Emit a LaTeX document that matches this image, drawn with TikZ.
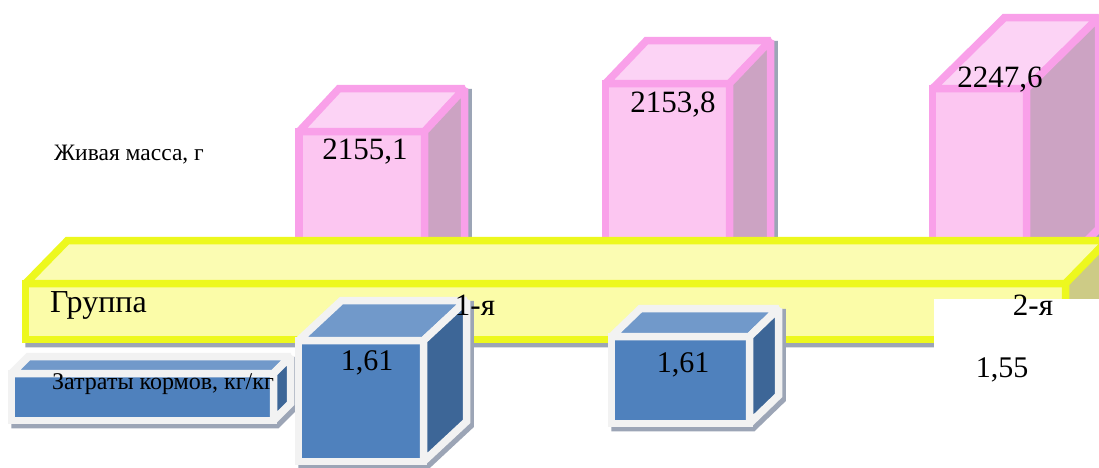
\documentclass[tikz,border=0pt]{standalone}
\usepackage{fontspec}
\setmainfont{Liberation Serif}
\definecolor{pinkS}{HTML}{F9A0E9}
\definecolor{pinkF}{HTML}{FCC6F1}
\definecolor{pinkT}{HTML}{FCD3F5}
\definecolor{pinkD}{HTML}{CCA3C3}
\definecolor{yelS}{HTML}{EDF81E}
\definecolor{yelF}{HTML}{FBFCA8}
\definecolor{yelT}{HTML}{FBFCB2}
\definecolor{yelD}{HTML}{CDCB86}
\definecolor{bluS}{HTML}{F2F2F2}
\definecolor{bluF}{HTML}{4F81BD}
\definecolor{bluT}{HTML}{7199CA}
\definecolor{bluD}{HTML}{3D6697}
\definecolor{shadowc}{HTML}{9CA5B6}
\tikzset{
  boxline/.style={line width=7.5pt, line join=miter, miter limit=1.6},
  lbl/.style={inner sep=0pt, text=black},
}
% #1 x1, #2 y1 (top), #3 x2, #4 y2 (bottom), #5 dx, #6 dy (up), #7 prefix of colour names
\newcommand\cuboid[7]{%
  \draw[boxline, shadowc, fill=shadowc, shift={(3.5,4)}]
    (#1,#4) -- (#1,#2) -- (#1+#5,#2-#6) -- (#3+#5,#2-#6) -- (#3+#5,#4-#6) -- (#3,#4) -- cycle;
  \draw[boxline, draw=#7S, fill=#7F] (#1,#2) rectangle (#3,#4);
  \draw[boxline, draw=#7S, fill=#7T] (#1,#2) -- (#1+#5,#2-#6) -- (#3+#5,#2-#6) -- (#3,#2) -- cycle;
  \draw[boxline, draw=#7S, fill=#7D] (#3,#2) -- (#3+#5,#2-#6) -- (#3+#5,#4-#6) -- (#3,#4) -- cycle;
}
\begin{document}
\begin{tikzpicture}[x=1pt,y=-1pt]
\useasboundingbox (0,0) rectangle (1099,467);
\clip (0,0) rectangle (1099,467);
\fill[white] (0,0) rectangle (1099,467);
% pink bars (live mass)
\cuboid{299}{131.5}{424.5}{300}{40}{43}{pink}
\cuboid{605.5}{83.5}{729.5}{300}{41}{43}{pink}
\cuboid{932.5}{88.5}{1026.5}{300}{72}{71}{pink}
% group bar
\cuboid{25.5}{283.5}{1065.5}{339.5}{42}{43}{yel}
% white label area
\fill[white] (934,299) rectangle (1099,467);
% blue boxes (feed cost)
\cuboid{11.5}{373.5}{273.5}{420.5}{17}{17}{blu}
\cuboid{298.5}{340.5}{423.5}{461.5}{43}{40}{blu}
\cuboid{611.5}{336.5}{749.5}{423.5}{29}{28}{blu}
% labels
\node[lbl, font=\fontsize{23.5}{26}\selectfont] (lm) at (129,155) {Живая масса, г};
\node[lbl, font=\fontsize{31}{34}\selectfont] (v1) at (365,152) {2155,1};
\node[lbl, font=\fontsize{31}{34}\selectfont] (v2) at (673,105) {2153,8};
\node[lbl, font=\fontsize{31}{34}\selectfont] (v3) at (1000,80) {2247,6};
\node[lbl, font=\fontsize{32}{35}\selectfont, anchor=west] (grp) at (50,305) {Группа};
\node[lbl, font=\fontsize{31}{34}\selectfont] (g1) at (475,305) {1-я};
\node[lbl, font=\fontsize{31}{34}\selectfont] (g2) at (1033,305) {2-я};
\node[lbl, font=\fontsize{24}{27}\selectfont] (lf) at (163,384) {Затраты кормов, кг/кг};
\node[lbl, font=\fontsize{30}{33}\selectfont] (f1) at (367,363) {1,61};
\node[lbl, font=\fontsize{30}{33}\selectfont] (f2) at (683,365) {1,61};
\node[lbl, font=\fontsize{30}{33}\selectfont] (f3) at (1002,370) {1,55};
\end{tikzpicture}
\end{document}
